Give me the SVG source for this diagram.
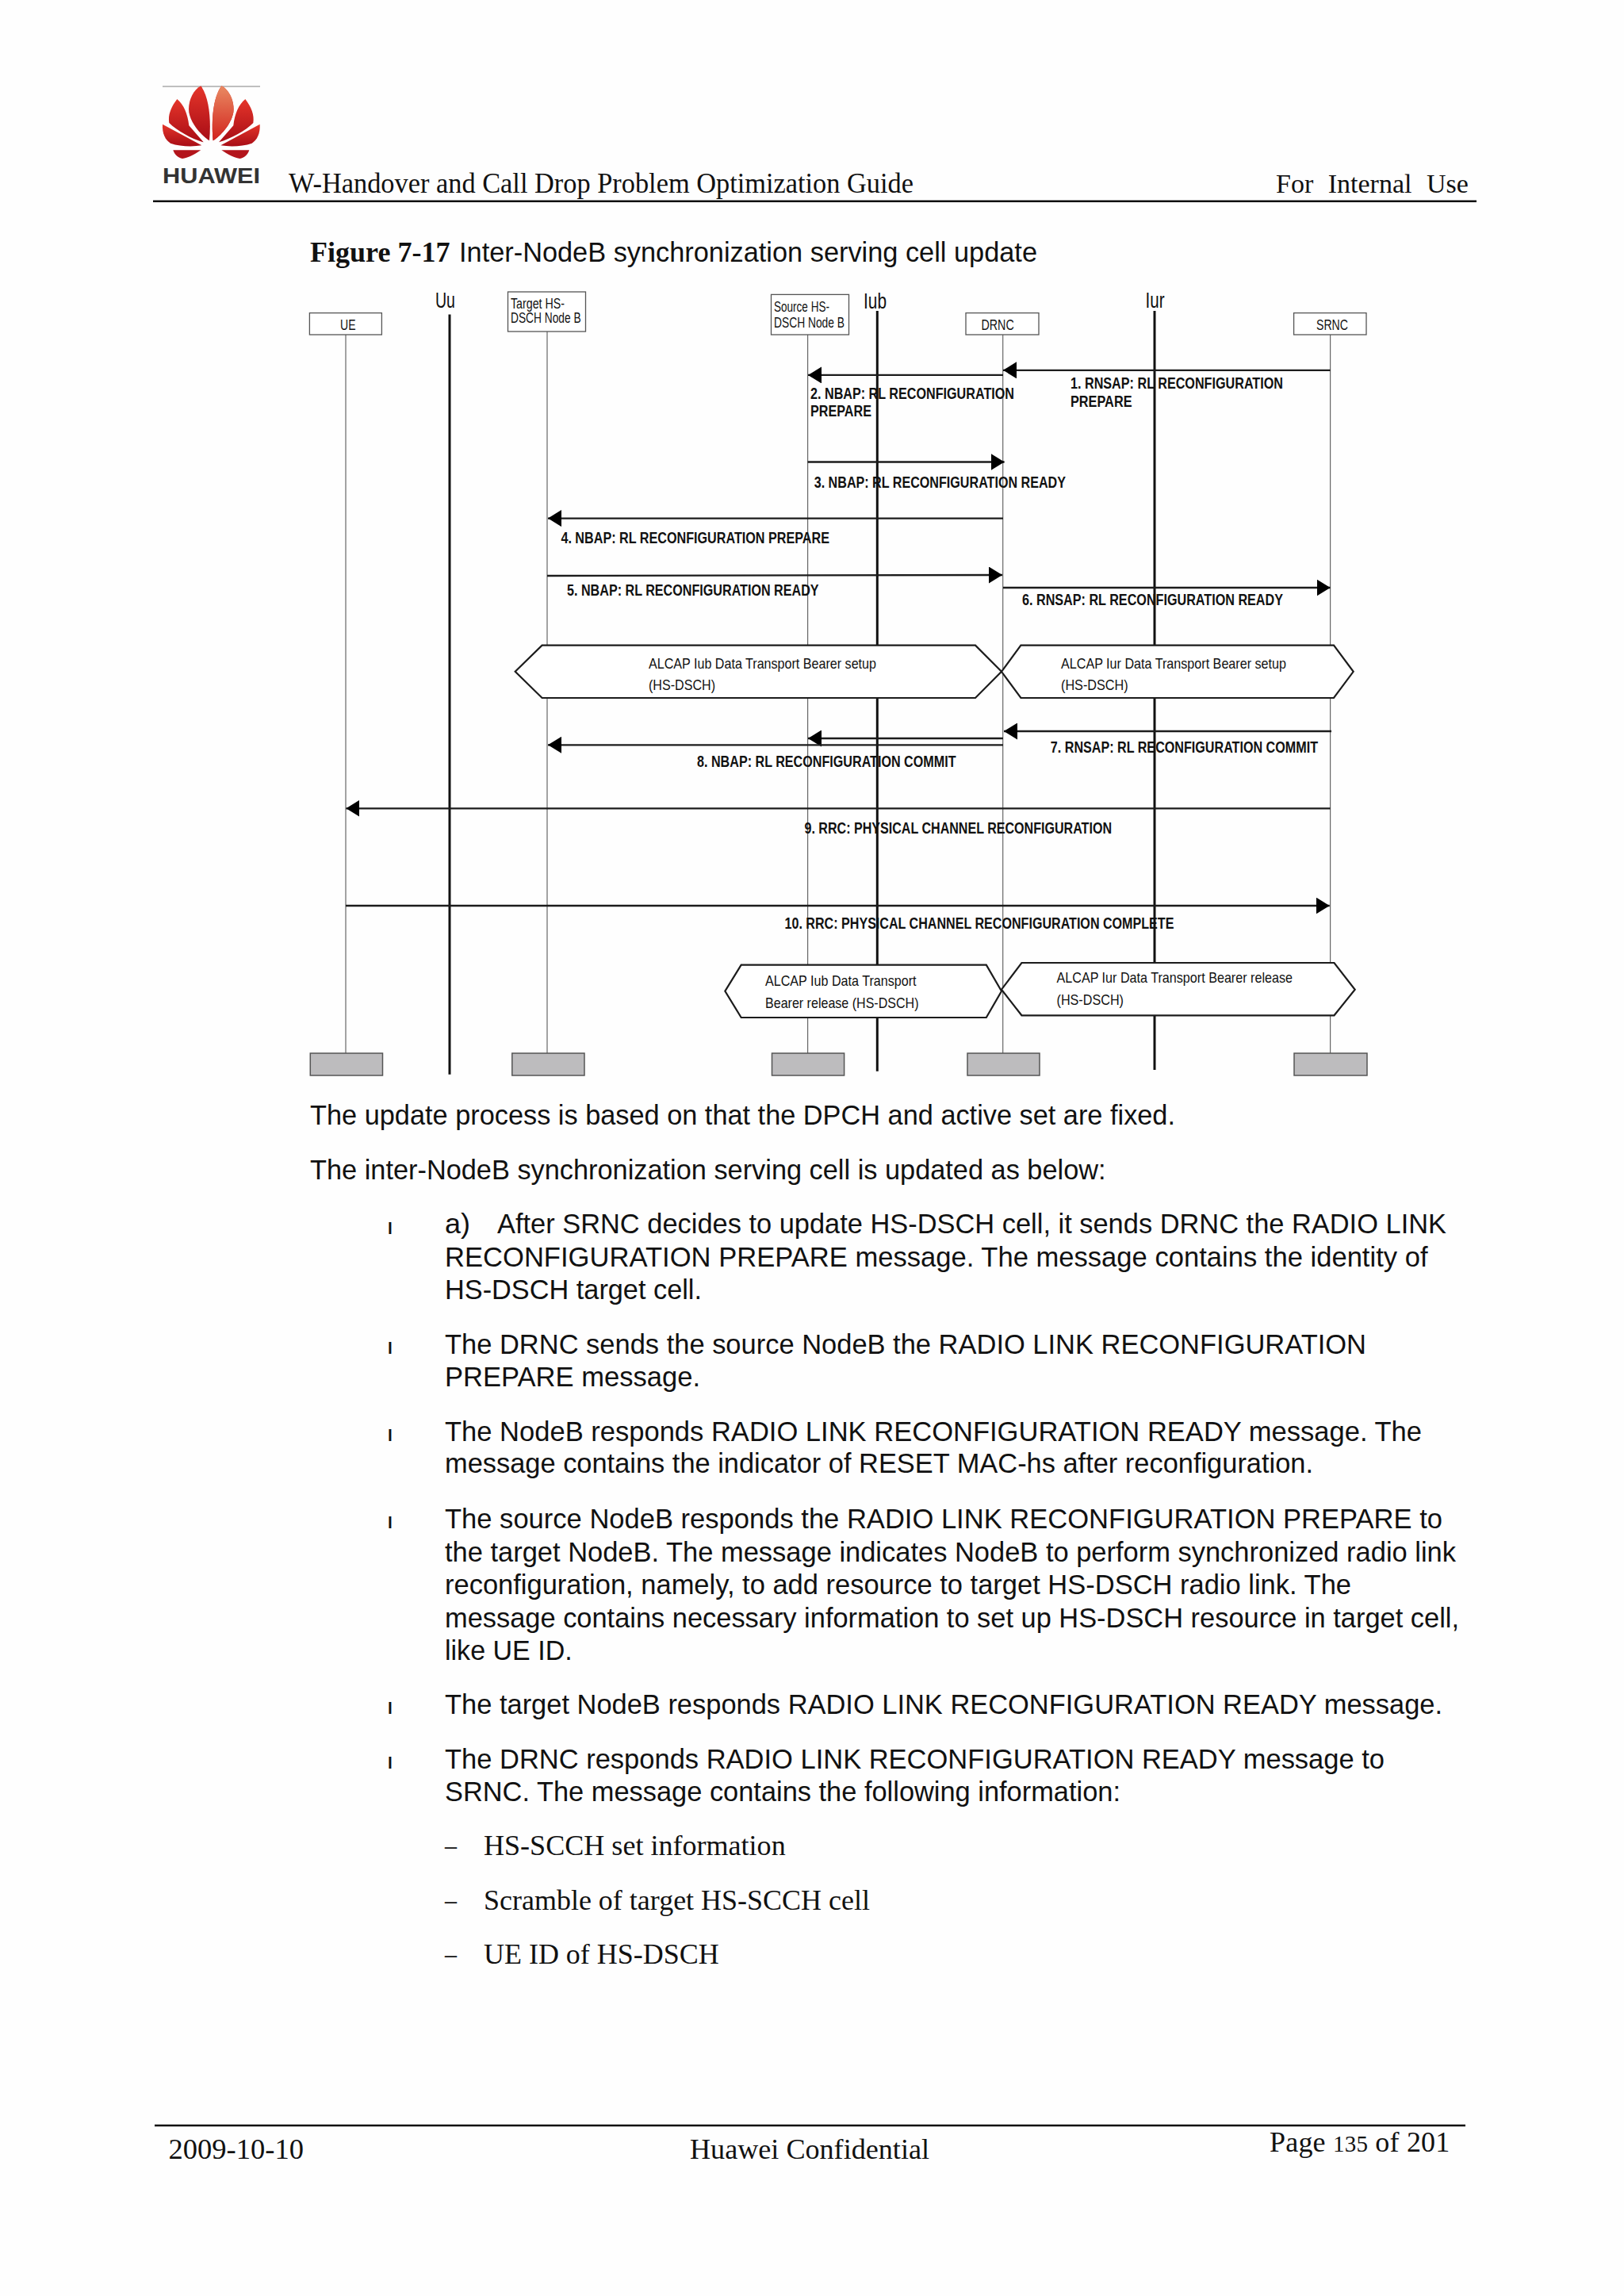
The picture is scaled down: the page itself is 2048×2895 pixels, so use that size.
<svg xmlns="http://www.w3.org/2000/svg" width="2048" height="2895" viewBox="0 0 2048 2895">
<style>
text{fill:#111}
.se{font-family:"Liberation Serif","Times New Roman",serif;font-size:36px}
.b{font-family:"Liberation Sans",Arial,sans-serif;font-size:34.5px}
.bl{font-family:"Liberation Sans",Arial,sans-serif;font-size:21px;font-weight:700}
.if{font-family:"Liberation Sans",Arial,sans-serif;font-size:27px}
.n{font-family:"Liberation Sans",Arial,sans-serif;font-size:18px}
.m{font-family:"Liberation Sans",Arial,sans-serif;font-size:19.5px;font-weight:700}
.a{font-family:"Liberation Sans",Arial,sans-serif;font-size:19px}
.box{fill:#fff;stroke:#555;stroke-width:1.3}
.end{fill:#bdbcbe;stroke:#555;stroke-width:1.5}
.life{stroke:#666;stroke-width:1.2;fill:none}
.iface{stroke:#111;stroke-width:3;fill:none}
.msg{stroke:#1c1c1c;stroke-width:2.3;fill:none}
.arr{marker-end:url(#arrow)}
.hex{fill:#fff;stroke:#1c1c1c;stroke-width:2.2}
.rule{stroke:#0c0c0c;stroke-width:2.6}
</style>
<defs>
<marker id="arrow" markerUnits="userSpaceOnUse" markerWidth="17" markerHeight="21" refX="17" refY="10.5" orient="auto"><path d="M0,0L17,10.5L0,21z" fill="#000"/></marker>
<linearGradient id="red" x1="0" y1="0" x2="0" y2="1"><stop offset="0" stop-color="#e5352a"/><stop offset="1" stop-color="#a80d16"/></linearGradient>
<linearGradient id="org" x1="0" y1="0" x2="0" y2="1"><stop offset="0" stop-color="#e98a62"/><stop offset="1" stop-color="#d2231e"/></linearGradient>
<g id="petals">
<path d="M175,25C145,40 125,85 130,125C138,170 180,215 207,232C214,160 208,70 175,25z" fill="url(#red)"/>
<path d="M85,75C62,105 50,135 55,165C85,195 140,225 185,238L130,175C125,130 110,95 85,75z" fill="url(#red)"/>
<path d="M30,170C28,205 40,228 60,242C95,254 140,256 178,250z" fill="url(#red)"/>
<path d="M70,268L175,268C150,285 125,298 105,300C90,298 75,285 70,268z" fill="#b3141b"/>
</g>
</defs>
<rect width="2048" height="2895" fill="#fefefe"/>
<g id="header">
<line x1="205" y1="109" x2="328" y2="109" stroke="#aaa" stroke-width="1.5"/>
<g id="logo" transform="translate(195,100) scale(.3333)">
<use href="#petals"/>
<use href="#petals" transform="translate(428,0) scale(-1,1)"/>
<path d="M253,25C283,40 303,85 298,125C290,170 248,215 221,232C214,160 220,70 253,25z" fill="url(#org)"/>
</g>
<text x="205" y="230.7" font-family="Liberation Sans,Arial,sans-serif" font-size="27" font-weight="700" style="fill:#333" textLength="123" lengthAdjust="spacingAndGlyphs">HUAWEI</text>
<text class="se" x="364" y="243" textLength="788" lengthAdjust="spacingAndGlyphs">W-Handover and Call Drop Problem Optimization Guide</text>
<text class="se" x="1609" y="243" word-spacing="10" style="font-size:34px">For Internal Use</text>
<line class="rule" x1="193" y1="253.7" x2="1862" y2="253.7"/>
</g>
<g id="caption">
<text x="391" y="330" class="se" style="font-weight:700" textLength="176.5" lengthAdjust="spacingAndGlyphs">Figure 7-17</text>
<text x="579" y="330" class="b" textLength="729" lengthAdjust="spacingAndGlyphs">Inter-NodeB synchronization serving cell update</text>
</g>
<g id="lifelines">
<line class="life" x1="436" y1="422" x2="436" y2="1328"/>
<line class="life" x1="690" y1="418" x2="690" y2="1328"/>
<line class="life" x1="1018.6" y1="422" x2="1018.6" y2="1328"/>
<line class="life" x1="1264.7" y1="422" x2="1264.7" y2="1328"/>
<line class="life" x1="1677.6" y1="422" x2="1677.6" y2="1328"/>
</g>
<g id="interfaces">
<line class="iface" x1="567" y1="396.5" x2="567" y2="1354.7"/>
<line class="iface" x1="1106.3" y1="392" x2="1106.3" y2="1350.7"/>
<line class="iface" x1="1456" y1="392" x2="1456" y2="1349"/>
<text class="if" x="549" y="387.5" textLength="25" lengthAdjust="spacingAndGlyphs">Uu</text>
<text class="if" x="1089" y="389" textLength="29" lengthAdjust="spacingAndGlyphs">Iub</text>
<text class="if" x="1444.5" y="387.5" textLength="24" lengthAdjust="spacingAndGlyphs">Iur</text>
</g>
<g id="node-ue"><rect class="box" x="390.4" y="394.6" width="91" height="27.4"/><text class="n" x="429" y="416.4" textLength="19.5" lengthAdjust="spacingAndGlyphs">UE</text><rect class="end" x="391.3" y="1328" width="91.2" height="28"/></g>
<g id="node-target"><rect class="box" x="640.5" y="368" width="98" height="50"/><text class="n" x="644" y="388.6" textLength="68" lengthAdjust="spacingAndGlyphs">Target HS-</text><text class="n" x="644" y="407" textLength="88.6" lengthAdjust="spacingAndGlyphs">DSCH Node B</text><rect class="end" x="645.8" y="1328" width="91.2" height="28"/></g>
<g id="node-source"><rect class="box" x="972.5" y="371.4" width="98" height="50.6"/><text class="n" x="976" y="393" textLength="70" lengthAdjust="spacingAndGlyphs">Source HS-</text><text class="n" x="976" y="413" textLength="89" lengthAdjust="spacingAndGlyphs">DSCH Node B</text><rect class="end" x="973.5" y="1328" width="91.1" height="28"/></g>
<g id="node-drnc"><rect class="box" x="1218" y="394.6" width="92" height="27.4"/><text class="n" x="1237.5" y="416.4" textLength="41.2" lengthAdjust="spacingAndGlyphs">DRNC</text><rect class="end" x="1220" y="1328" width="91" height="28"/></g>
<g id="node-srnc"><rect class="box" x="1631.6" y="394.6" width="91.4" height="27.4"/><text class="n" x="1660" y="416.4" textLength="40" lengthAdjust="spacingAndGlyphs">SRNC</text><rect class="end" x="1632" y="1328" width="92" height="28"/></g>
<g id="connectors">
<line class="msg arr" x1="1677.6" y1="466.8" x2="1265" y2="466.8"/>
<line class="msg arr" x1="1265" y1="472.9" x2="1019" y2="472.9"/>
<line class="msg arr" x1="1018.6" y1="582.5" x2="1266.6" y2="582.5"/>
<line class="msg arr" x1="1265" y1="653.6" x2="691" y2="653.6"/>
<line class="msg arr" x1="690" y1="726" x2="1264" y2="725"/>
<line class="msg arr" x1="1265" y1="741" x2="1677.6" y2="741"/>
<line class="msg arr" x1="1679" y1="922" x2="1266" y2="922"/>
<line class="msg arr" x1="1265" y1="931" x2="1019" y2="931"/>
<line class="msg arr" x1="1265" y1="939.3" x2="691" y2="939.3"/>
<line class="msg arr" x1="1677.6" y1="1019.3" x2="436.4" y2="1019.3"/>
<line class="msg arr" x1="436" y1="1142" x2="1676.7" y2="1142"/>
</g>
<g id="message-labels">
<text class="m" x="1350" y="490.4" textLength="268" lengthAdjust="spacingAndGlyphs">1. RNSAP: RL RECONFIGURATION</text>
<text class="m" x="1350" y="513" textLength="77.5" lengthAdjust="spacingAndGlyphs">PREPARE</text>
<text class="m" x="1022" y="503" textLength="257" lengthAdjust="spacingAndGlyphs">2. NBAP: RL RECONFIGURATION</text>
<text class="m" x="1022" y="525.4" textLength="77" lengthAdjust="spacingAndGlyphs">PREPARE</text>
<text class="m" x="1026.7" y="614.6" textLength="317.3" lengthAdjust="spacingAndGlyphs">3. NBAP: RL RECONFIGURATION READY</text>
<text class="m" x="707.4" y="685" textLength="338.6" lengthAdjust="spacingAndGlyphs">4. NBAP: RL RECONFIGURATION PREPARE</text>
<text class="m" x="715" y="751" textLength="317.6" lengthAdjust="spacingAndGlyphs">5. NBAP: RL RECONFIGURATION READY</text>
<text class="m" x="1289" y="762.5" textLength="329" lengthAdjust="spacingAndGlyphs">6. RNSAP: RL RECONFIGURATION READY</text>
<text class="m" x="1324.8" y="949" textLength="337.2" lengthAdjust="spacingAndGlyphs">7. RNSAP: RL RECONFIGURATION COMMIT</text>
<text class="m" x="879" y="967" textLength="326.5" lengthAdjust="spacingAndGlyphs">8. NBAP: RL RECONFIGURATION COMMIT</text>
<text class="m" x="1014.5" y="1050.7" textLength="387.5" lengthAdjust="spacingAndGlyphs">9. RRC: PHYSICAL CHANNEL RECONFIGURATION</text>
<text class="m" x="989.5" y="1171" textLength="490.9" lengthAdjust="spacingAndGlyphs">10. RRC: PHYSICAL CHANNEL RECONFIGURATION COMPLETE</text>
</g>
<g id="alcap-iub-setup"><path class="hex" d="M649.7,846.8L683.6,813.6H1230L1263,846.8L1230,880H683.6z"/><text class="a" x="818" y="843" textLength="287" lengthAdjust="spacingAndGlyphs">ALCAP Iub Data Transport Bearer setup</text><text class="a" x="818" y="869.6" textLength="84" lengthAdjust="spacingAndGlyphs">(HS-DSCH)</text></g>
<g id="alcap-iur-setup"><path class="hex" d="M1263,846.8L1287.4,813.6H1682L1706.7,846.8L1682,880H1287.4z"/><text class="a" x="1338" y="843" textLength="284" lengthAdjust="spacingAndGlyphs">ALCAP Iur Data Transport Bearer setup</text><text class="a" x="1338" y="869.6" textLength="84.7" lengthAdjust="spacingAndGlyphs">(HS-DSCH)</text></g>
<g id="alcap-iub-release"><path class="hex" d="M914.4,1249.7L934.7,1216.7H1243.8L1263,1249.7L1243.8,1283H934.7z"/><text class="a" x="965" y="1242.7" textLength="190.6" lengthAdjust="spacingAndGlyphs">ALCAP Iub Data Transport</text><text class="a" x="965" y="1270.7" textLength="193.5" lengthAdjust="spacingAndGlyphs">Bearer release (HS-DSCH)</text></g>
<g id="alcap-iur-release"><path class="hex" d="M1263,1247.7L1288.4,1214H1682.5L1708.7,1247.7L1682.5,1280.3H1288.4z"/><text class="a" x="1332.5" y="1239" textLength="297.5" lengthAdjust="spacingAndGlyphs">ALCAP Iur Data Transport Bearer release</text><text class="a" x="1332.5" y="1267" textLength="84.5" lengthAdjust="spacingAndGlyphs">(HS-DSCH)</text></g>
<g id="body">
<text class="b" x="391" y="1418" textLength="1091" lengthAdjust="spacingAndGlyphs">The update process is based on that the DPCH and active set are fixed.</text>
<text class="b" x="391" y="1486.7" textLength="1003.6" lengthAdjust="spacingAndGlyphs">The inter-NodeB synchronization serving cell is updated as below:</text>
<text class="bl" x="489" y="1555.5">l</text>
<text class="b" x="561" y="1555" textLength="32" lengthAdjust="spacingAndGlyphs">a)</text>
<text class="b" x="627" y="1555" textLength="1197" lengthAdjust="spacingAndGlyphs">After SRNC decides to update HS-DSCH cell, it sends DRNC the RADIO LINK</text>
<text class="b" x="561" y="1596.7" textLength="1239.5" lengthAdjust="spacingAndGlyphs">RECONFIGURATION PREPARE message. The message contains the identity of</text>
<text class="b" x="561" y="1638.3" textLength="324" lengthAdjust="spacingAndGlyphs">HS-DSCH target cell.</text>
<text class="bl" x="489" y="1706.7">l</text>
<text class="b" x="561" y="1706.7" textLength="1162" lengthAdjust="spacingAndGlyphs">The DRNC sends the source NodeB the RADIO LINK RECONFIGURATION</text>
<text class="b" x="561" y="1747.7" textLength="322" lengthAdjust="spacingAndGlyphs">PREPARE message.</text>
<text class="bl" x="489" y="1817.3">l</text>
<text class="b" x="561" y="1817.3" textLength="1232" lengthAdjust="spacingAndGlyphs">The NodeB responds RADIO LINK RECONFIGURATION READY message. The</text>
<text class="b" x="561" y="1857.3" textLength="1095" lengthAdjust="spacingAndGlyphs">message contains the indicator of RESET MAC-hs after reconfiguration.</text>
<text class="bl" x="489" y="1927.3">l</text>
<text class="b" x="561" y="1927.3" textLength="1258" lengthAdjust="spacingAndGlyphs">The source NodeB responds the RADIO LINK RECONFIGURATION PREPARE to</text>
<text class="b" x="561" y="1969.4" textLength="1275" lengthAdjust="spacingAndGlyphs">the target NodeB. The message indicates NodeB to perform synchronized radio link</text>
<text class="b" x="561" y="2010" textLength="1143" lengthAdjust="spacingAndGlyphs">reconfiguration, namely, to add resource to target HS-DSCH radio link. The</text>
<text class="b" x="561" y="2052" textLength="1279" lengthAdjust="spacingAndGlyphs">message contains necessary information to set up HS-DSCH resource in target cell,</text>
<text class="b" x="561" y="2092.7" textLength="160.7" lengthAdjust="spacingAndGlyphs">like UE ID.</text>
<text class="bl" x="489" y="2161">l</text>
<text class="b" x="561" y="2161" textLength="1258" lengthAdjust="spacingAndGlyphs">The target NodeB responds RADIO LINK RECONFIGURATION READY message.</text>
<text class="bl" x="489" y="2230">l</text>
<text class="b" x="561" y="2230" textLength="1185" lengthAdjust="spacingAndGlyphs">The DRNC responds RADIO LINK RECONFIGURATION READY message to</text>
<text class="b" x="561" y="2270.6" textLength="852" lengthAdjust="spacingAndGlyphs">SRNC. The message contains the following information:</text>
<text class="se" x="561" y="2338.8" textLength="15" lengthAdjust="spacingAndGlyphs">–</text>
<text class="se" x="610" y="2338.8" textLength="380.7" lengthAdjust="spacingAndGlyphs">HS-SCCH set information</text>
<text class="se" x="561" y="2407.8" textLength="15" lengthAdjust="spacingAndGlyphs">–</text>
<text class="se" x="610" y="2407.8" textLength="487" lengthAdjust="spacingAndGlyphs">Scramble of target HS-SCCH cell</text>
<text class="se" x="561" y="2476" textLength="15" lengthAdjust="spacingAndGlyphs">–</text>
<text class="se" x="610" y="2476" textLength="296.7" lengthAdjust="spacingAndGlyphs">UE ID of HS-DSCH</text>
</g>
<g id="footer">
<line class="rule" x1="195" y1="2680" x2="1848" y2="2680"/>
<text class="se" x="212.5" y="2722" textLength="170.5" lengthAdjust="spacingAndGlyphs">2009-10-10</text>
<text class="se" x="870" y="2722" textLength="302" lengthAdjust="spacingAndGlyphs">Huawei Confidential</text>
<text class="se" x="1601" y="2713" style="font-size:36px;letter-spacing:.2px">Page <tspan style="font-size:29px">135</tspan> of 201</text>
</g>
</svg>
